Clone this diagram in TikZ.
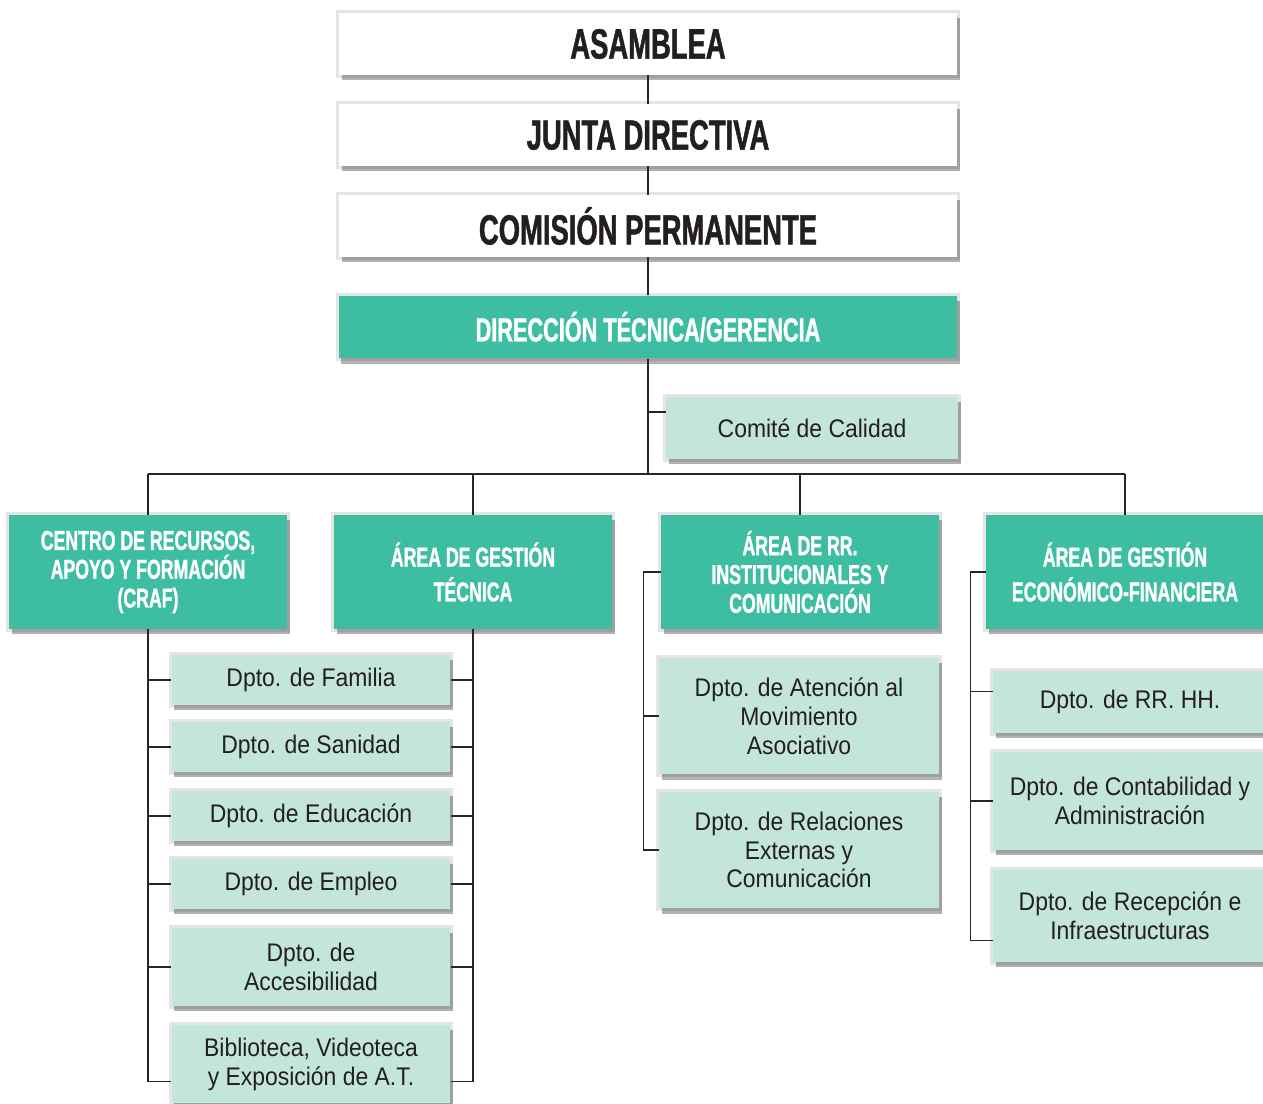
\documentclass[tikz,border=0pt]{standalone}
\usepackage{fontspec}
\setmainfont{Liberation Sans}
\newfontfamily\condfont[FakeStretch=0.65,BoldFeatures={FakeBold=1.2}]{Liberation Sans}
\newfontfamily\dptofont[FakeStretch=0.9]{Liberation Sans}
\usetikzlibrary{shadows}
\definecolor{verde}{HTML}{3DBEA3}
\definecolor{menta}{HTML}{C4E5DC}
\definecolor{tinta}{HTML}{231F20}
\tikzset{
  sombra/.style={preaction={draw=black,opacity=.1,line width=3pt},
    drop shadow={shadow xshift=1.5pt,shadow yshift=-3pt,fill=black,opacity=.3}},
  organo/.style={sombra,fill=white,minimum width=12.36cm,minimum height=1.24cm,inner sep=0pt,
    text=tinta,font=\condfont\bfseries\fontsize{24}{26}\selectfont},
  direc/.style={sombra,fill=verde,minimum width=12.38cm,minimum height=1.26cm,inner sep=0pt,
    text=white,font=\condfont\bfseries\fontsize{19}{21}\selectfont},
  area/.style={sombra,fill=verde,minimum width=5.56cm,minimum height=2.28cm,inner sep=0pt,
    align=center,text=white,font=\condfont\bfseries\fontsize{15.5}{16.4}\selectfont},
  dpto/.style={sombra,fill=menta,minimum width=5.58cm,minimum height=1cm,inner sep=0pt,
    align=center,text=tinta,font=\dptofont\fontsize{14.5}{16.4}\selectfont},
  linea/.style={draw=black!85,line width=0.9pt}
}
\begin{document}
\begin{tikzpicture}[x=0.02cm,y=-0.02cm]
    \useasboundingbox (0,0) rectangle (1263,1104);
    \node[organo] (asamblea) at (648,44) {ASAMBLEA};
    \node[organo] (junta) at (648,135) {JUNTA DIRECTIVA};
    \node[organo] (comision) at (648,226) {COMISIÓN PERMANENTE};
    \node[direc] (direccion) at (648,327) {DIRECCIÓN TÉCNICA/GERENCIA};
    \node[dpto,minimum width=5.84cm,minimum height=1.24cm] (calidad) at (812,428) {Comité de Calidad};
    \node[area] (craf) at (148,572) {CENTRO DE RECURSOS,\\APOYO Y FORMACIÓN\\(CRAF)};
    \node[area] (tecnica) at (473,572) {ÁREA DE GESTIÓN\\[3.4pt]TÉCNICA};
    \node[area] (rrii) at (800,572) {ÁREA DE RR.\\INSTITUCIONALES Y\\COMUNICACIÓN};
    \node[area] (econ) at (1125,572) {ÁREA DE GESTIÓN\\[3.4pt]ECONÓMICO-FINANCIERA};
    \node[dpto] (familia) at (311,680) {Dpto. de Familia};
    \node[dpto] (sanidad) at (311,747) {Dpto. de Sanidad};
    \node[dpto] (educacion) at (311,816) {Dpto. de Educación};
    \node[dpto] (empleo) at (311,884) {Dpto. de Empleo};
    \node[dpto,minimum height=1.56cm] (accesib) at (311,967) {Dpto. de\\Accesibilidad};
    \node[dpto,minimum height=1.56cm] (biblio) at (311,1064) {Biblioteca, Videoteca\\y Exposición de A.T.};
    \node[dpto,minimum width=5.6cm,minimum height=2.34cm] (atencion) at (799,716) {Dpto. de Atención al\\Movimiento\\Asociativo};
    \node[dpto,minimum width=5.6cm,minimum height=2.34cm] (relaciones) at (799,850) {Dpto. de Relaciones\\Externas y\\Comunicación};
    \node[dpto,minimum width=5.48cm,minimum height=1.24cm] (rrhh) at (1130,702) {Dpto. de RR. HH.};
    \node[dpto,minimum width=5.48cm,minimum height=1.96cm] (contab) at (1130,801) {Dpto. de Contabilidad y\\Administración};
    \node[dpto,minimum width=5.48cm,minimum height=1.84cm] (recepcion) at (1130,916) {Dpto. de Recepción e\\Infraestructuras};
    \coordinate (bus) at (648,474);
    \draw[linea] (asamblea) -- (junta);
    \draw[linea] (junta) -- (comision);
    \draw[linea] (comision) -- (direccion);
    \draw[linea] (direccion) -- (bus);
    \draw[linea] ([yshift=9pt]calidad.west) -- ([yshift=9pt]calidad.west -| bus);
    \draw[linea] (craf.north |- bus) -- (econ.north |- bus);
    \foreach \n in {craf,tecnica,rrii,econ}
        \draw[linea] (\n.north) -- (\n.north |- bus);
    \draw[linea] (craf.south) |- ([yshift=-10pt]biblio.west);
    \draw[linea] (tecnica.south) |- ([yshift=-10pt]biblio.east);
    \foreach \n in {familia,sanidad,educacion,empleo,accesib} {
        \draw[linea] (\n.west) -- (\n.west -| craf.south);
        \draw[linea] (\n.east) -- (\n.east -| tecnica.south);
    }
    \draw[linea] (rrii.west) -- ++(-17,0) |- (relaciones.west);
    \draw[linea] (atencion.west) -- ++(-15,0);
    \draw[linea] (econ.west) -- ++(-15,0) |- ([yshift=-14pt]recepcion.west);
    \draw[linea] ([yshift=6pt]rrhh.west) -- ++(-22,0);
    \draw[linea] (contab.west) -- ++(-22,0);
\end{tikzpicture}
\end{document}
